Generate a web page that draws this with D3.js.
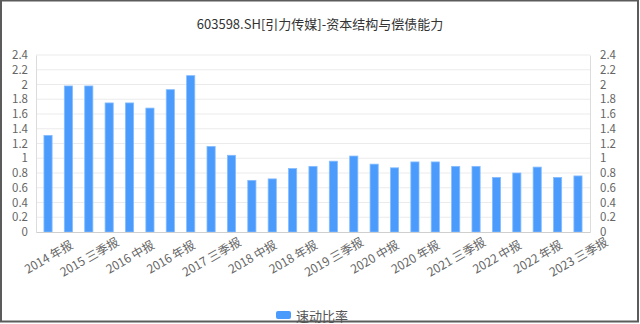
<!DOCTYPE html>
<html>
<head>
<meta charset="utf-8">
<script src="https://cdn.jsdelivr.net/npm/d3@7"></script>
<style>
  body { margin: 0; background: #fff; }
  text { font-family: "Noto Sans CJK SC", "Noto Sans", sans-serif; }
</style>
</head>
<body>
<div id="chart"></div>
<script>
const title = "603598.SH[引力传媒]-资本结构与偿债能力";
const seriesName = "速动比率";

const periods = [
    "2014 年报", "2015 中报", "2015 三季报", "2015 年报", "2016 中报", "2016 三季报",
    "2016 年报", "2017 中报", "2017 三季报", "2017 年报", "2018 中报", "2018 三季报",
    "2018 年报", "2019 中报", "2019 三季报", "2019 年报", "2020 中报", "2020 三季报",
    "2020 年报", "2021 中报", "2021 三季报", "2021 年报", "2022 中报", "2022 三季报",
    "2022 年报", "2023 中报", "2023 三季报"
];
const quickRatio = [
    1.31, 1.98, 1.98, 1.75, 1.75, 1.68, 1.93, 2.12, 1.16, 1.04, 0.70, 0.72,
    0.86, 0.89, 0.96, 1.03, 0.92, 0.87, 0.95, 0.95, 0.89, 0.89, 0.74, 0.80,
    0.88, 0.74, 0.76
];
const yTicks = [0, 0.2, 0.4, 0.6, 0.8, 1, 1.2, 1.4, 1.6, 1.8, 2, 2.2, 2.4];

const width = 640, height = 324;
const margin = { top: 55, right: 50, bottom: 92, left: 36 };
const plotW = width - margin.left - margin.right;
const plotH = height - margin.top - margin.bottom;

const svg = d3.select("#chart").append("svg")
    .attr("width", width)
    .attr("height", height);

// cadre
svg.append("rect")
    .attr("x", 1).attr("y", 0.5)
    .attr("width", width - 3).attr("height", height - 3)
    .attr("fill", "#fff")
    .attr("stroke", "#5b5b5b")
    .attr("stroke-width", 2);

svg.append("text")
    .attr("x", width / 2).attr("y", 29)
    .attr("text-anchor", "middle")
    .attr("font-size", 13)
    .attr("fill", "#333")
    .text(title);

const x = d3.scaleBand().domain(periods).range([0, plotW]).paddingInner(0.6).paddingOuter(0.39);
const y = d3.scaleLinear().domain([0, 2.4]).range([plotH, 0]);

const g = svg.append("g").attr("transform", `translate(${margin.left},${margin.top})`);

// grille
g.append("g").selectAll("line")
    .data(yTicks.slice(1))
    .enter().append("line")
    .attr("x1", 0).attr("x2", plotW)
    .attr("y1", d => y(d)).attr("y2", d => y(d))
    .attr("stroke", "#ebebeb")
    .attr("stroke-width", 1);

// axes verticaux
const yLeft = g.append("g")
    .call(d3.axisLeft(y).tickValues(yTicks).tickSize(0).tickPadding(8).tickFormat(d3.format("~g")));
const yRight = g.append("g")
    .attr("transform", `translate(${plotW},0)`)
    .call(d3.axisRight(y).tickValues(yTicks).tickSize(0).tickPadding(10).tickFormat(d3.format("~g")));
[yLeft, yRight].forEach(a => {
    a.select(".domain").attr("stroke", "#dcdcdc");
    a.selectAll("text").attr("font-size", 11.5).attr("fill", "#666")
        .attr("font-family", "\"Noto Sans CJK SC\", sans-serif");
});

// barres
g.append("g").selectAll("rect")
    .data(quickRatio)
    .enter().append("rect")
    .attr("x", (d, i) => x(periods[i]))
    .attr("y", d => y(d))
    .attr("width", x.bandwidth())
    .attr("height", d => plotH - y(d))
    .attr("fill", "#4a9bfb")
    .attr("stroke", "#86bcff")
    .attr("stroke-width", 0.8);

// axe x
const xAxis = g.append("g")
    .attr("transform", `translate(0,${plotH})`)
    .call(d3.axisBottom(x).tickSize(0).tickFormat(""));
xAxis.select(".domain").attr("stroke", "#cfcfcf");

g.append("g").selectAll("text")
    .data(periods.filter((d, i) => i % 2 === 0))
    .enter().append("text")
    .attr("transform", d => `translate(${x(d) + x.bandwidth() / 2},${plotH + 24}) rotate(-30)`)
    .attr("text-anchor", "middle")
    .attr("dominant-baseline", "central")
    .attr("font-size", 12)
    .attr("fill", "#666")
    .text(d => d);

// légende
const legend = svg.append("g").attr("transform", "translate(276,311)");
legend.append("rect")
    .attr("width", 15).attr("height", 8).attr("rx", 2)
    .attr("fill", "#4a9bfb");
legend.append("text")
    .attr("x", 20).attr("y", 4)
    .attr("dominant-baseline", "central")
    .attr("font-size", 13)
    .attr("fill", "#555")
    .text(seriesName);
</script>
</body>
</html>
